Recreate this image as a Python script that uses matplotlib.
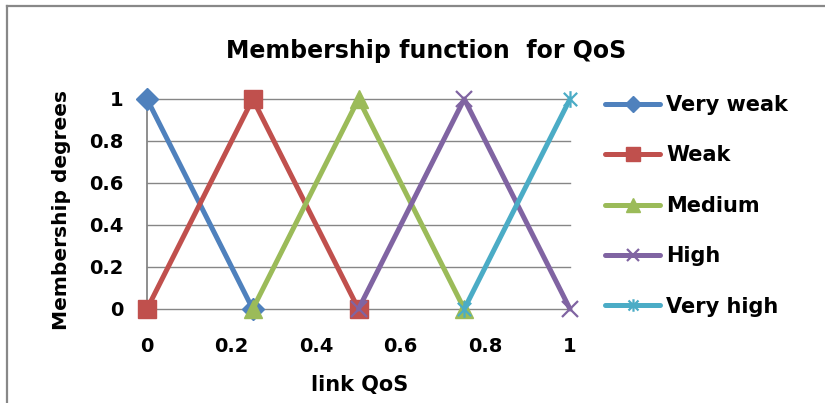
import matplotlib
matplotlib.use("Agg")
import matplotlib.pyplot as plt
from matplotlib.path import Path
from matplotlib.lines import Line2D

plt.rcParams['font.family'] = ['DejaVu Sans']
plt.rcParams['font.weight'] = 'bold'

# Membership functions for link QoS
series_names = ["Very weak", "Weak", "Medium", "High", "Very high"]
very_weak_x = [0, 0.25]
very_weak_y = [1, 0]
weak_x = [0, 0.25, 0.5]
weak_y = [0, 1, 0]
medium_x = [0.25, 0.5, 0.75]
medium_y = [0, 1, 0]
high_x = [0.5, 0.75, 1]
high_y = [0, 1, 0]
very_high_x = [0.75, 1]
very_high_y = [0, 1]

x_ticks = [0, 0.2, 0.4, 0.6, 0.8, 1]
x_tick_labels = ["0", "0.2", "0.4", "0.6", "0.8", "1"]
y_ticks = [0, 0.2, 0.4, 0.6, 0.8, 1]
y_tick_labels = ["0", "0.2", "0.4", "0.6", "0.8", "1"]

colors = ["#4F81BD", "#C0504D", "#9BBB59", "#8064A2", "#4BACC6"]

# Asterisk marker: an X crossed by a vertical bar
star_verts = [(-1, -1), (1, 1), (-1, 1), (1, -1), (0, -1.25), (0, 1.25)]
star_codes = [Path.MOVETO, Path.LINETO, Path.MOVETO, Path.LINETO, Path.MOVETO, Path.LINETO]
star_marker = Path(star_verts, star_codes)

markers = ["D", "s", "^", "x", star_marker]
msizes = [11, 13, 13, 12, 12]
mews = [1, 1, 1, 1.6, 1.6]

W, H = 825, 403
fig = plt.figure(figsize=(W / 100, H / 100), dpi=100)
ax = fig.add_axes([147 / W, (H - 309) / H, 423 / W, 210 / H])

data = [(very_weak_x, very_weak_y), (weak_x, weak_y), (medium_x, medium_y),
        (high_x, high_y), (very_high_x, very_high_y)]
for (xs, ys), name, c, m, ms, mew in zip(data, series_names, colors, markers, msizes, mews):
    ax.plot(xs, ys, color=c, lw=3.6, marker=m, markersize=ms, markeredgewidth=mew,
            markeredgecolor=c, markerfacecolor=c, label=name, clip_on=False,
            solid_capstyle='round', zorder=3)

ax.set_xlim(0, 1)
ax.set_ylim(0, 1)
ax.set_xticks(x_ticks)
ax.set_xticklabels(x_tick_labels)
ax.set_yticks(y_ticks)
ax.set_yticklabels(y_tick_labels)
ax.tick_params(axis='both', length=0, labelsize=14)
ax.tick_params(axis='x', pad=20)
ax.tick_params(axis='y', pad=17)
ax.grid(axis='y', color='#868686', lw=1.0)
for gl in ax.get_ygridlines():
    gl.set_clip_on(False)
ax.set_axisbelow(True)
for s in ['top', 'right', 'bottom']:
    ax.spines[s].set_visible(False)
ax.spines['left'].set_color('#868686')
ax.spines['left'].set_linewidth(1.3)

fig.text(426 / W, 1 - 58 / H, "Membership function  for QoS", fontsize=17,
         fontweight='bold', ha='center', va='baseline')
fig.text(360 / W, 1 - 391 / H, "link QoS", fontsize=15, fontweight='bold',
         ha='center', va='baseline')
fig.text(67 / W, 1 - 210 / H, "Membership degrees", fontsize=14.5, fontweight='bold',
         rotation=90, ha='center', va='baseline', rotation_mode='anchor')

leg = fig.legend(loc='upper left', bbox_to_anchor=(605 / W, 1 - 95 / H), frameon=False,
                 fontsize=15, handlelength=2.65, labelspacing=1.46, handletextpad=0.3,
                 borderaxespad=0, borderpad=0, markerscale=0.75)

# Chart area outline (top and left edges)
fig.add_artist(Line2D([7 / W, 7 / W], [0, 1 - 6 / H], transform=fig.transFigure,
                      color='#888888', lw=1.6))
fig.add_artist(Line2D([7 / W, 1], [1 - 6 / H, 1 - 6 / H], transform=fig.transFigure,
                      color='#888888', lw=1.6))

fig.savefig("out.png", dpi=100)
